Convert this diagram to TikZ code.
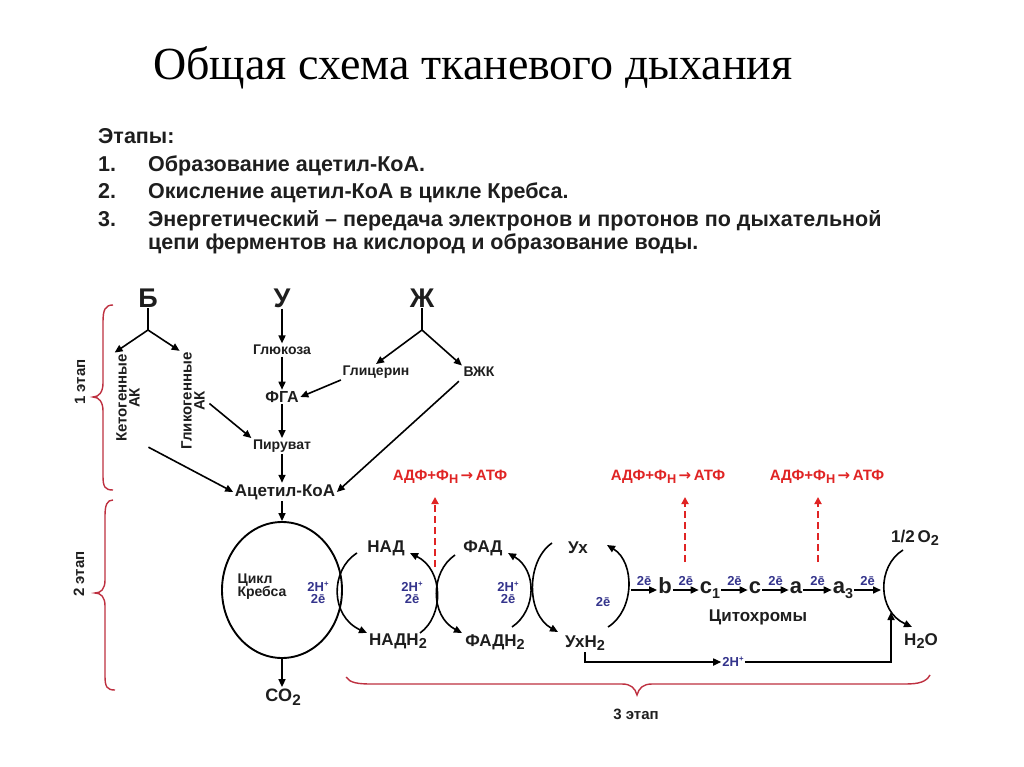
\documentclass[tikz,border=0pt]{standalone}
\usepackage{fontspec}
\setmainfont{Liberation Sans}
\newfontfamily\titlefont{Liberation Serif}
\newfontfamily\dejavu{DejaVu Sans}
\usetikzlibrary{arrows.meta,shapes.geometric}
\definecolor{eblue}{HTML}{34348C}
\definecolor{atpred}{HTML}{E02424}
\definecolor{brred}{HTML}{BE3040}
\definecolor{txt}{HTML}{1E1E1E}
\newcommand\lo[1]{\raisebox{-0.4ex}{\scalebox{0.85}{#1}}}
\newcommand\los[1]{\raisebox{-0.45ex}{\scalebox{0.65}{#1}}}
\newcommand\hi[1]{\raisebox{0.7ex}{\scalebox{0.6}{#1}}}
\newcommand\fs[1]{\fontsize{#1}{#1}\bfseries\selectfont}
\newcommand\rarr{\,{\dejavu\bfseries →}\,}
\begin{document}
\begin{tikzpicture}[x=1pt,y=-1pt,
  arr/.style={line width=1.6pt,-{Triangle[length=8pt,width=7pt]}},
  ln/.style={line width=1.6pt},
  dsh/.style={line width=2.2pt,atpred,dash pattern=on 7pt off 4pt,-{Triangle[length=7pt,width=7pt]}},
  brace/.style={line width=1.4pt,brred},
  t14/.style={font=\fs{14}, inner sep=1.5pt, text=txt},
  t15/.style={font=\fs{15}, inner sep=1.5pt, text=txt},
  t17/.style={font=\fs{17}, inner sep=1.5pt, text=txt},
  big/.style={font=\fs{27}, inner sep=1pt, text=txt},
  blue/.style={font=\fs{13}, text=eblue, inner sep=1pt, align=center},
  atp/.style={font=\fs{15}, text=atpred, inner sep=1pt},
  cyt/.style={font=\fs{22}, text=txt, inner sep=1pt, text height=11pt, text depth=4pt},
  lst/.style={font=\fs{21.5}, text=txt, anchor=base west, inner sep=0pt}]
\useasboundingbox (0,0) rectangle (1024,767);
\fill[white] (0,0) rectangle (1024,767);

% title
\node[font=\titlefont\fontsize{46}{50}\selectfont, text=black] (title) at (473,68) {Общая схема тканевого дыхания};

% stage list
\node[lst] (et) at (98,144) {Этапы:};
\node[lst] (n1) at (98,172) {1.};
\node[lst] (l1) at (148,172) {Образование ацетил-КоА.};
\node[lst] (n2) at (98,199) {2.};
\node[lst] (l2) at (148,199) {Окисление ацетил-КоА в цикле Кребса.};
\node[lst] (n3) at (98,226) {3.};
\node[lst] (l3) at (148,226) {Энергетический – передача электронов и протонов по дыхательной};
\node[lst] (l4) at (148,249) {цепи ферментов на кислород и образование воды.};

% stage 1
\node[big] (B) at (148,298) {Б};
\node[big] (U) at (282,298) {У};
\node[big] (Zh) at (422,298) {Ж};
\coordinate (bf) at (148,330);
\coordinate (zf) at (422,330);
\node[t15, rotate=90, align=center] (keto) at (128,398) {Кетогенные\\[-2pt]АК};
\node[t15, rotate=90, align=center] (glyco) at (193,401) {Гликогенные\\[-2pt]АК};
\node[t14] (glu) at (282,350) {Глюкоза};
\node[font=\fs{16}, text=txt, inner sep=1.5pt] (fga) at (282,397) {ФГА};
\node[t14] (pir) at (282,446) {Пируват};
\node[font=\fs{17}, text=txt, inner sep=1.5pt] (acoa) at (285,492) {Ацетил-КоА};
\node[t14] (glic) at (376,372) {Глицерин};
\node[t14] (vzhk) at (479,372) {ВЖК};

\draw[ln] (B.south) -- (bf);
\draw[arr] (bf) -- (keto.north east);
\draw[arr] (bf) -- (glyco.north east);
\draw[ln] (Zh.south) -- (zf);
\draw[arr] (zf) -- (glic.north);
\draw[arr] (zf) -- (vzhk.north west);
\draw[arr] (U.south) -- (glu.north);
\draw[arr] (glu.south) -- (fga.north);
\draw[arr] (fga.south) -- (pir.north);
\draw[arr] (pir.south) -- (pir.south |- acoa.north);
\draw[arr] (glic.south west) -- (fga.east);
\draw[arr, shorten <=4pt] (glyco.south) -- (pir.north west);
\draw[arr, shorten <=8pt] (keto.south west) -- (acoa.west);
\draw[arr, shorten <=4pt] (vzhk.south west) -- (acoa.east);

% Krebs
\node[ellipse, draw, line width=1.9pt, minimum width=120pt, minimum height=136pt, inner sep=0pt] (krebs) at (282,590) {};
\node[t14, align=left] (kt) at (262,587) {Цикл\\[-1pt]Кребса};
\node[blue] (h1) at (318,593) {2H\hi{+}\\[-1pt]2ē};
\node[font=\fs{18}, text=txt, inner sep=1.5pt] (co2) at (283,697) {CO\lo{2}};
\draw[arr] (krebs.north |- acoa.south) -- (krebs.north);
\draw[arr] (krebs.south) -- (krebs.south |- co2.north);

% NAD / FAD / Ux
\node[t17] (nad) at (386,548) {НАД};
\node[t17] (nadh) at (398,641) {НАДН\lo{2}};
\node[t17] (fad) at (483,548) {ФАД};
\node[t17] (fadh) at (495,642) {ФАДН\lo{2}};
\node[t17] (ux) at (578,548) {Ух};
\node[t17] (uxh) at (585,643) {УхН\lo{2}};
\node[blue] (h2) at (412,593) {2H\hi{+}\\[-1pt]2ē};
\node[blue] (h3) at (508,593) {2H\hi{+}\\[-1pt]2ē};
\node[blue] (e4) at (603,602) {2ē};

\coordinate (a1t) at (357,553); \coordinate (a1b) at (367,633);
\coordinate (a2b) at (420,633); \coordinate (a2t) at (410,553);
\coordinate (a3t) at (455,555); \coordinate (a3b) at (462,633);
\coordinate (a4b) at (512,627); \coordinate (a4t) at (508,553);
\coordinate (a5t) at (552,543); \coordinate (a5b) at (558,632);
\coordinate (a6b) at (608,627); \coordinate (a6t) at (607,545);
\draw[arr] (a1t) .. controls (330,570) and (330,616) .. (a1b);
\draw[arr] (a2b) .. controls (444,616) and (444,570) .. (a2t);
\draw[arr] (a3t) .. controls (430,572) and (430,616) .. (a3b);
\draw[arr] (a4b) .. controls (537,610) and (537,570) .. (a4t);
\draw[arr] (a5t) .. controls (526,561) and (526,614) .. (a5b);
\draw[arr] (a6b) .. controls (635,610) and (635,562) .. (a6t);

% ATP
\node[atp] (atp1) at (450,477) {АДФ+Ф\lo{Н}\rarr АТФ};
\node[atp] (atp2) at (668,477) {АДФ+Ф\lo{Н}\rarr АТФ};
\node[atp] (atp3) at (827,477) {АДФ+Ф\lo{Н}\rarr АТФ};
\coordinate (d1) at (435,567);
\coordinate (d2) at (685,562);
\coordinate (d3) at (818,562);
\draw[dsh] (d1) -- (d1 |- 0,497);
\draw[dsh] (d2) -- (d2 |- 0,497);
\draw[dsh] (d3) -- (d3 |- 0,497);

% cytochromes
\coordinate (uxr) at (631,590);
\node[cyt] (cb) at (665,590) {b};
\node[cyt] (cc1) at (710,590) {c\los{1}};
\node[cyt] (cc) at (755,590) {c};
\node[cyt] (ca) at (796,590) {a};
\node[cyt] (ca3) at (843,590) {a\los{3}};
\coordinate (o2in) at (881,590);
\draw[arr] (uxr) -- node[blue, above=3pt] {2ē} (cb.west);
\draw[arr] (cb.east) -- node[blue, above=3pt] {2ē} (cc1.west);
\draw[arr] (cc1.east) -- node[blue, above=3pt] {2ē} (cc.west);
\draw[arr] (cc.east) -- node[blue, above=3pt] {2ē} (ca.west);
\draw[arr] (ca.east) -- node[blue, above=3pt] {2ē} (ca3.west);
\draw[arr] (ca3.east) -- node[blue, above=3pt] {2ē} (o2in);
\node[t17] (cyto) at (758,617) {Цитохромы};

% oxygen
\node[t17] (o2) at (915,538) {1/2\,O\lo{2}};
\node[t17] (h2o) at (921,641) {H\lo{2}O};
\coordinate (o7t) at (903,550); \coordinate (o7b) at (912,627);
\draw[arr] (o7t) .. controls (877,566) and (877,611) .. (o7b);
\node[blue] (hp) at (733,662) {2H\hi{+}};
\coordinate (o2up) at (891,612);
\draw[arr] (uxh.south) |- (hp.west);
\draw[arr] (hp.east) -| (o2up);

% braces
\draw[brace] (113,305) .. controls (105,305) and (103,310) .. (103,322) -- (103,383)
  .. controls (103,392) and (99,397) .. (93,397)
  .. controls (99,397) and (103,402) .. (103,411) -- (103,476)
  .. controls (103,487) and (105,490) .. (113,490);
\draw[brace] (113,500) .. controls (107,500) and (105,505) .. (105,516) -- (105,580)
  .. controls (105,589) and (101,593) .. (95,593)
  .. controls (101,593) and (105,597) .. (105,606) -- (105,676)
  .. controls (105,687) and (107,690) .. (115,690);
\draw[brace] (346,677) .. controls (350,683) and (358,684) .. (372,684) -- (622,684)
  .. controls (631,684) and (635,688) .. (637,695)
  .. controls (639,688) and (643,684) .. (652,684) -- (905,684)
  .. controls (919,684) and (926,682) .. (930,675);
\node[font=\fs{15}, text=txt, rotate=90] (s1) at (80,382) {1 этап};
\node[font=\fs{15}, text=txt, rotate=90] (s2) at (79,574) {2 этап};
\node[font=\fs{15}, text=txt] (s3) at (636,714) {3 этап};
\end{tikzpicture}
\end{document}
